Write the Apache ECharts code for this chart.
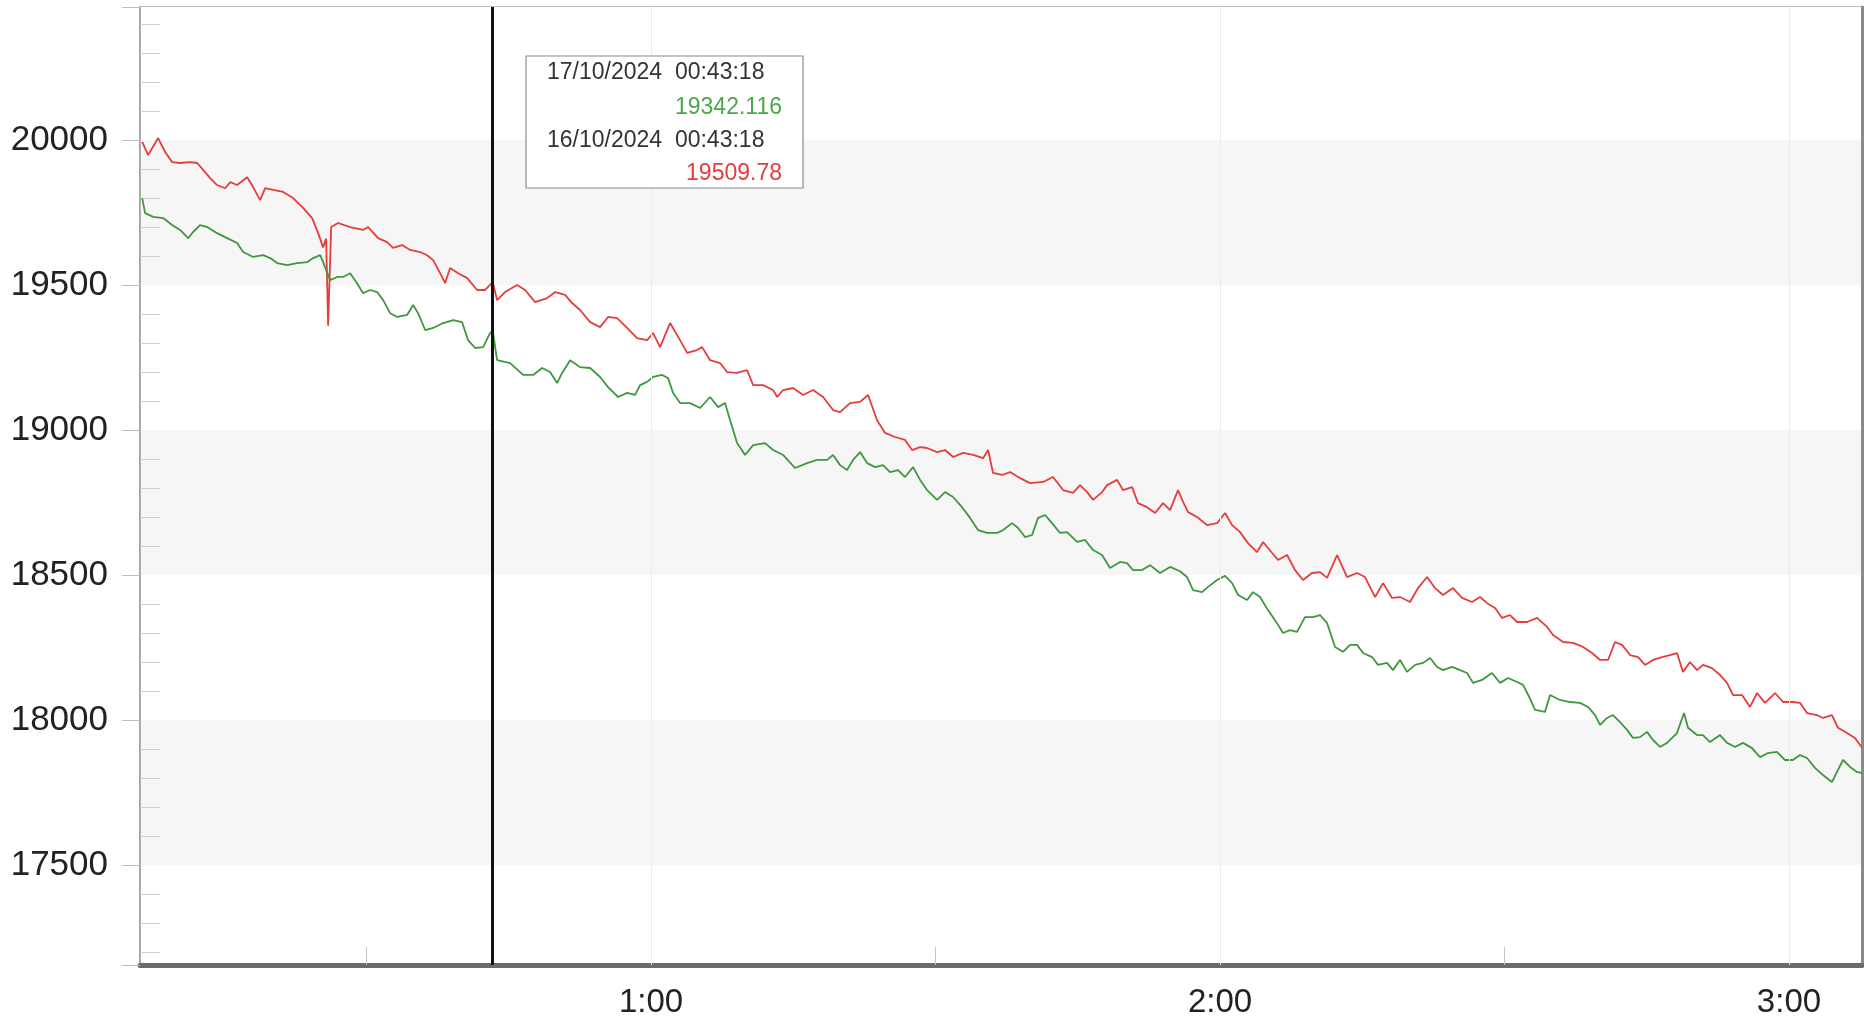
<!DOCTYPE html>
<html>
<head>
<meta charset="utf-8">
<script src="https://cdn.jsdelivr.net/npm/echarts@6/dist/echarts.min.js"></script>
<style>
  html, body { margin: 0; padding: 0; background: #ffffff; }
  #chart { width: 1864px; height: 1026px; }
</style>
</head>
<body>
<div id="chart"></div>
<script>
// Time of day in minutes after midnight, index level at that time.
// Red: session of 16/10/2024, green: session of 17/10/2024.
const redTimes = [6.33,6.96,8.01,8.75,9.49,10.33,11.39,12.13,12.76,13.50,14.23,15.08,15.61,16.34,17.40,18.03,18.77,19.30,20.14,21.19,22.25,23.30,24.25,24.89,25.41,25.73,25.94,26.26,26.99,28.26,29.63,30.16,31.21,32.16,32.79,33.74,34.59,35.64,36.38,37.01,37.75,38.28,38.80,39.65,40.60,41.65,42.50,43.30,43.76,44.60,45.87,46.71,47.77,49.03,49.88,50.93,51.67,52.51,53.57,54.62,55.46,56.41,57.47,58.52,59.58,60.21,60.95,62.00,62.74,63.80,64.85,65.38,66.22,67.28,68.01,69.07,70.12,70.76,71.81,72.87,73.29,73.92,74.97,76.03,77.08,78.14,79.19,79.93,80.98,82.04,82.88,83.83,84.67,85.73,86.78,87.52,88.37,89.10,90.16,91.00,91.85,92.90,93.96,95.01,95.54,96.06,97.01,97.86,98.91,99.97,101.34,102.39,103.45,104.50,105.24,105.98,106.61,107.56,108.09,109.14,109.77,110.72,111.35,112.30,113.15,113.99,114.73,115.57,116.10,116.63,117.58,118.63,119.69,120.53,121.27,122.11,122.95,123.90,124.54,125.49,126.12,127.07,127.91,128.75,129.70,130.55,131.29,132.34,133.40,134.45,135.29,136.35,137.19,138.14,138.98,140.04,140.88,141.83,142.67,143.52,144.57,145.52,146.58,147.42,148.16,149.00,149.74,150.58,151.32,152.38,153.43,154.49,155.12,156.17,157.23,158.28,159.23,160.07,160.92,161.65,162.39,163.24,164.08,164.82,165.66,166.61,167.46,168.19,168.82,169.56,170.30,170.93,171.88,172.73,173.47,174.10,175.05,175.89,176.63,177.47,178.53,179.37,180.42,181.16,181.90,182.95,183.59,184.53,185.17,186.12,186.96,187.70];
const redValues = [19994,19948,20007,19959,19924,19921,19924,19921,19897,19869,19845,19834,19855,19845,19872,19838,19793,19834,19828,19821,19800,19766,19731,19679,19630,19660,19360,19700,19714,19700,19690,19700,19662,19648,19628,19638,19621,19614,19603,19586,19541,19507,19559,19541,19524,19483,19483,19509.78,19448,19476,19500,19483,19441,19455,19476,19466,19438,19414,19372,19355,19390,19386,19352,19317,19310,19334,19286,19369,19328,19266,19276,19286,19241,19231,19200,19197,19207,19155,19155,19138,19114,19138,19145,19121,19138,19114,19069,19062,19093,19097,19121,19034,18990,18976,18966,18931,18941,18938,18924,18931,18907,18921,18914,18903,18931,18852,18845,18855,18834,18817,18821,18838,18793,18783,18810,18786,18759,18786,18810,18828,18793,18803,18748,18734,18714,18748,18724,18793,18752,18717,18700,18672,18679,18714,18672,18648,18610,18579,18614,18576,18552,18569,18517,18483,18507,18510,18490,18569,18493,18507,18493,18424,18472,18421,18424,18407,18455,18493,18455,18431,18455,18421,18407,18424,18403,18386,18352,18362,18338,18338,18352,18321,18293,18269,18266,18252,18231,18207,18207,18269,18259,18224,18217,18190,18207,18217,18224,18231,18166,18200,18172,18190,18179,18155,18128,18086,18086,18045,18093,18059,18093,18062,18062,18059,18024,18017,18007,18017,17973,17955,17938,17904];

const greenTimes = [6.33,6.64,7.49,8.54,9.49,10.33,11.18,11.70,12.44,13.18,14.23,15.29,16.34,16.98,18.03,19.09,19.82,20.56,21.62,22.67,23.73,24.36,25.10,25.41,26.15,26.89,27.52,28.26,28.97,29.63,30.37,31.11,31.74,32.48,33.22,34.27,34.90,35.43,36.17,37.01,38.07,39.12,40.07,40.70,41.44,42.29,43.02,43.30,43.76,45.13,46.50,47.56,48.51,49.35,50.09,50.62,51.46,52.51,53.57,54.62,55.46,56.52,57.47,58.31,58.84,59.58,60.21,61.16,61.79,62.32,63.06,64.11,65.17,66.22,67.07,67.80,68.33,69.07,69.91,70.76,72.02,72.87,73.92,75.19,76.45,77.51,78.56,79.19,79.93,80.67,81.30,82.04,82.78,83.62,84.46,85.20,86.05,86.78,87.63,88.37,89.10,90.16,91.00,91.85,92.79,93.64,94.48,95.43,96.49,97.12,98.07,98.70,99.44,100.18,100.81,101.55,102.28,103.13,103.87,104.92,105.77,106.61,107.56,108.40,109.46,110.19,110.83,111.77,112.62,113.67,114.73,115.78,116.52,117.16,118.10,118.74,119.69,120.53,121.27,121.90,122.85,123.48,124.22,125.06,126.01,126.64,127.38,128.12,128.96,129.81,130.55,131.29,132.13,132.97,133.71,134.45,135.08,136.03,136.66,137.61,138.24,138.98,139.72,140.57,141.41,142.15,142.89,143.52,144.47,145.31,146.05,146.68,147.63,148.68,149.53,150.37,151.32,151.95,152.69,153.22,154.27,154.80,155.85,156.91,157.96,158.81,159.55,160.07,160.81,161.44,162.18,162.92,163.55,164.29,165.03,165.66,166.40,167.14,168.19,168.93,169.35,170.30,170.93,171.67,172.73,173.47,174.31,175.15,176.10,176.94,177.79,178.73,179.58,180.42,181.16,181.90,182.74,183.59,184.53,185.17,185.70,186.44,187.17,187.70];
const greenValues = [19800,19748,19735,19731,19707,19690,19662,19683,19707,19700,19679,19662,19645,19614,19597,19603,19593,19576,19569,19576,19579,19593,19603,19579,19517,19528,19528,19541,19507,19472,19483,19476,19448,19403,19390,19397,19431,19403,19345,19352,19369,19379,19372,19310,19283,19286,19335,19342.116,19241,19231,19190,19190,19214,19200,19162,19197,19241,19217,19214,19183,19148,19114,19128,19121,19155,19166,19183,19190,19179,19128,19093,19093,19076,19114,19079,19093,19034,18955,18914,18948,18955,18931,18914,18869,18886,18897,18897,18914,18879,18862,18897,18924,18886,18872,18879,18855,18862,18838,18872,18828,18793,18759,18786,18769,18734,18697,18655,18645,18645,18655,18679,18662,18631,18638,18697,18707,18679,18645,18648,18614,18621,18586,18569,18524,18545,18541,18517,18517,18534,18507,18528,18513,18493,18448,18441,18459,18483,18497,18472,18431,18414,18441,18424,18379,18334,18300,18310,18304,18355,18355,18362,18334,18252,18235,18259,18259,18231,18217,18190,18197,18172,18207,18166,18190,18197,18214,18183,18172,18183,18172,18162,18128,18138,18162,18128,18145,18131,18121,18074,18035,18028,18086,18069,18062,18059,18045,18017,17983,18007,18017,17993,17966,17938,17941,17959,17931,17907,17921,17955,18024,17973,17948,17948,17924,17948,17921,17907,17921,17903,17872,17886,17890,17862,17862,17879,17869,17835,17810,17786,17828,17862,17838,17821,17817];

// Axis ticks (minutes after midnight)
const hourTicks = [60, 120, 180];
const halfHourTicks = [30, 60, 90, 120, 150, 180];

// Crosshair reading
const cursorMinutes = 43.3;
const cursorClock = '00:43:18';
const greenDate = '17/10/2024';
const redDate = '16/10/2024';

const FONT = '"Liberation Sans", Arial, sans-serif';

function zip(times, values) {
  return times.map((t, i) => [t, values[i]]);
}
function clockLabel(v) {
  const h = Math.floor(v / 60);
  const m = Math.round(v - h * 60);
  return h + ':' + String(m).padStart(2, '0');
}

const greenAtCursor = greenValues[greenTimes.indexOf(cursorMinutes)];
const redAtCursor = redValues[redTimes.indexOf(cursorMinutes)];

const chart = echarts.init(document.getElementById('chart'), null, { renderer: 'canvas' });

// Readout box next to the crosshair
const boxX = 526, boxY = 56, boxW = 277, boxH = 132;
const textLeft = boxX + 21, textRight = boxX + 256;
const readoutFont = '23px ' + FONT;

chart.setOption({
  animation: false,
  backgroundColor: '#ffffff',
  grid: {
    left: 140, right: 2, top: 7, bottom: 61,
    show: true, borderColor: '#bdbdbd', borderWidth: 2, backgroundColor: 'transparent'
  },
  xAxis: {
    type: 'value',
    min: 6.1,
    max: 187.7,
    axisLine: { show: true, lineStyle: { color: '#6b6b6b', width: 5 } },
    axisTick: {
      show: true, inside: true, length: 18,
      customValues: halfHourTicks,
      lineStyle: { color: '#c4c4c4', width: 1 }
    },
    axisLabel: {
      customValues: hourTicks,
      formatter: clockLabel,
      fontSize: 33, color: '#222222', fontFamily: FONT, margin: 21
    },
    splitLine: { show: false }
  },
  yAxis: [{
    type: 'value',
    min: 17155,
    max: 20459,
    splitNumber: 6,
    axisLine: { show: true, lineStyle: { color: '#9a9a9a', width: 1.5 } },
    axisTick: { show: true, inside: false, length: 18, lineStyle: { color: '#bdbdbd', width: 1 } },
    minorTick: { show: true, splitNumber: 5, length: -20, lineStyle: { color: '#cfcfcf', width: 1 } },
    axisLabel: {
      showMinLabel: false, showMaxLabel: false,
      formatter: v => String(v),
      fontSize: 35, color: '#222222', fontFamily: FONT, margin: 32
    },
    splitLine: { show: false },
    splitArea: { show: true, areaStyle: { color: ['#ffffff', '#f6f6f6'] } }
  }, {
    type: 'value',
    position: 'right',
    axisLine: { show: true, lineStyle: { color: '#8a8a8a', width: 3 } },
    axisTick: { show: false },
    axisLabel: { show: false },
    splitLine: { show: false }
  }],
  series: [{
    name: redDate,
    type: 'line',
    data: zip(redTimes, redValues),
    showSymbol: false,
    symbol: 'none',
    lineStyle: { color: '#e63c3c', width: 1.8 },
    z: 3
  }, {
    name: greenDate,
    type: 'line',
    data: zip(greenTimes, greenValues),
    showSymbol: false,
    symbol: 'none',
    lineStyle: { color: '#3f973f', width: 1.8 },
    z: 4,
    markLine: {
      silent: true,
      symbol: 'none',
      label: { show: false },
      data: [
        ...hourTicks.map(h => ({ xAxis: h, lineStyle: { color: '#ececec', width: 1, type: 'solid' } })),
        { xAxis: cursorMinutes, lineStyle: { color: '#111111', width: 3, type: 'solid' } }
      ]
    }
  }],
  graphic: {
    elements: [
      { type: 'rect', z: 100, silent: true,
        shape: { x: boxX, y: boxY, width: boxW, height: boxH },
        style: { fill: '#ffffff', stroke: '#8c8c8c', lineWidth: 1.2 } },
      { type: 'text', z: 101, silent: true, x: textLeft, y: boxY + 17,
        style: { text: greenDate + '  ' + cursorClock, font: readoutFont, fill: '#333333', textVerticalAlign: 'middle', verticalAlign: 'middle' } },
      { type: 'text', z: 101, silent: true, x: textRight, y: boxY + 52,
        style: { text: String(greenAtCursor), font: readoutFont, fill: '#4aa84a', textAlign: 'right', align: 'right', textVerticalAlign: 'middle', verticalAlign: 'middle' } },
      { type: 'text', z: 101, silent: true, x: textLeft, y: boxY + 85,
        style: { text: redDate + '  ' + cursorClock, font: readoutFont, fill: '#333333', textVerticalAlign: 'middle', verticalAlign: 'middle' } },
      { type: 'text', z: 101, silent: true, x: textRight, y: boxY + 118,
        style: { text: String(redAtCursor), font: readoutFont, fill: '#e23d3d', textAlign: 'right', align: 'right', textVerticalAlign: 'middle', verticalAlign: 'middle' } }
    ]
  }
});
</script>
</body>
</html>
